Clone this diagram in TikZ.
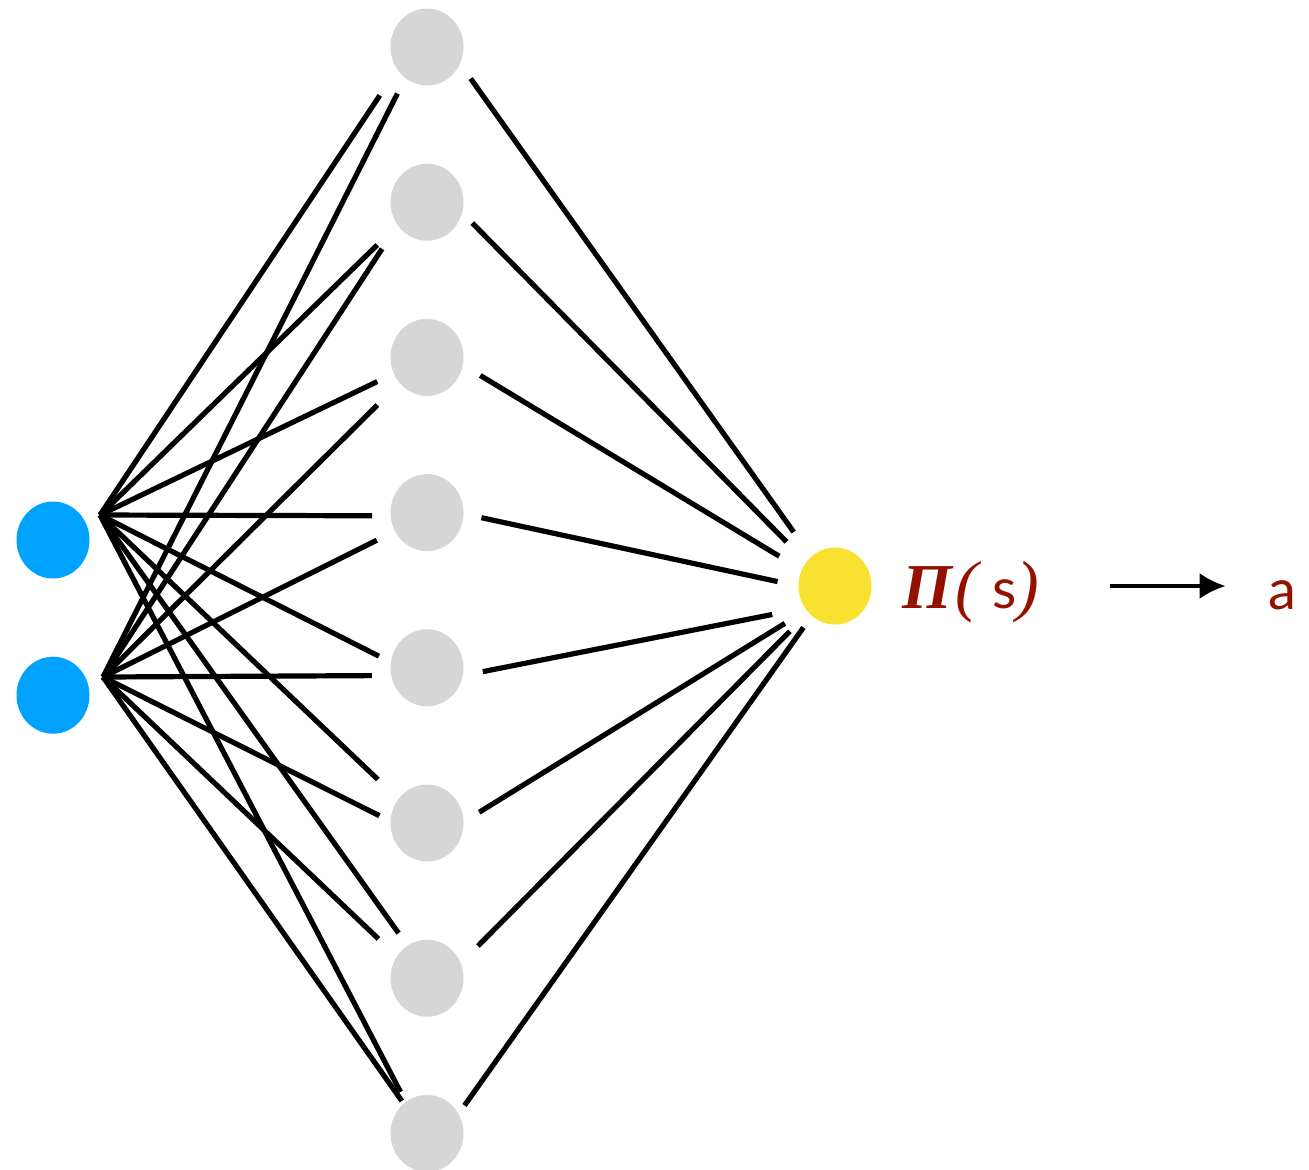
\documentclass[tikz,border=0pt]{standalone}
\usepackage{fontspec}
\usepackage{tikz}
\usetikzlibrary{arrows.meta,positioning,shapes.geometric}
\newfontfamily\pifont{Liberation Serif}
\newfontfamily\lblfont{Lato}
\definecolor{InputBlue}{HTML}{00A2FF}
\definecolor{HiddenGray}{HTML}{D6D6D6}
\definecolor{OutYellow}{HTML}{F9E132}
\definecolor{PolicyRed}{HTML}{941100}

\begin{document}
\begin{tikzpicture}[
  x=0.5pt, y=-0.5pt,
  node distance=38.7pt,
  unit/.style={ellipse,minimum width=36.5pt,minimum height=38.5pt,inner sep=0pt},
  inunit/.style={unit,fill=InputBlue},
  hidunit/.style={unit,fill=HiddenGray},
  outunit/.style={unit,fill=OutYellow},
  link/.style={line width=2.6pt},
  arrow/.style={-{Latex[length=13pt,width=13pt]},line width=2pt},
  txt/.style={text=PolicyRed,inner sep=0pt,anchor=base}
]
  \useasboundingbox (0,0) rectangle (1309,1169);

  \node[inunit] (in1) at (53,540) {};
  \node[inunit, below=of in1] (in2) {};

  \node[hidunit] (h1) at (427,47) {};
  \node[hidunit, below=of h1] (h2) {};
  \node[hidunit, below=of h2] (h3) {};
  \node[hidunit, below=of h3] (h4) {};
  \node[hidunit, below=of h4] (h5) {};
  \node[hidunit, below=of h5] (h6) {};
  \node[hidunit, below=of h6] (h7) {};
  \node[hidunit, below=of h7] (h8) {};

  \node[outunit] (out) at (835,586) {};
  \node[txt] (pi) at (971,608) {\pifont\fontsize{32}{36}\selectfont{\bfseries\itshape Π}\hspace{1.5pt}{\itshape\fontsize{34}{38}\selectfont(}\hspace{7pt}{\lblfont\fontsize{28}{32}\selectfont s}{\itshape\fontsize{34}{38}\selectfont)}};
  \node[txt] (act) at (1282,609) {\lblfont\fontsize{28}{32}\selectfont a};

  \coordinate (p1) at (100,515);
  \coordinate (p2) at (103,677);

  \draw[link, shorten >=15.5pt] (p1) -- (h1.217);
  \draw[link, shorten >=14pt] (p1) -- (h2.218);
  \draw[link, shorten >=9pt] (p1) -- (h3.206);
  \draw[link, shorten >=9pt] (p1) -- (h4.185);
  \draw[link, shorten >=6.5pt] (p1) -- (h5.171);
  \draw[link, shorten >=14pt] (p1) -- (h6.140);
  \draw[link, shorten >=7.5pt] (p1) -- (h7.121);
  \draw[link, shorten >=5.5pt] (p1) -- (h8.124);

  \draw[link, shorten >=8.5pt] (p2) -- (h1.235);
  \draw[link, shorten >=14pt] (p2) -- (h2.218);
  \draw[link, shorten >=15.5pt] (p2) -- (h3.223);
  \draw[link, shorten >=10pt] (p2) -- (h4.210);
  \draw[link, shorten >=9.5pt] (p2) -- (h5.192);
  \draw[link, shorten >=6pt] (p2) -- (h6.177);
  \draw[link, shorten >=12.5pt] (p2) -- (h7.144);
  \draw[link, shorten >=1.5pt] (p2) -- (h8.128);

  \draw[link, shorten <=9pt, shorten >=15pt] (h1.333) -- (out.129);
  \draw[link, shorten <=7pt, shorten >=14pt] (h2.343) -- (out.140);
  \draw[link, shorten <=10pt, shorten >=13pt] (h3.348) -- (out.154);
  \draw[link, shorten <=9pt, shorten >=10.5pt] (h4.358) -- (out.180);
  \draw[link, shorten <=10pt, shorten >=16.5pt] (h5.348) -- (out.216);
  \draw[link, shorten <=9pt, shorten >=12.5pt] (h6.2) -- (out.220);
  \draw[link, shorten <=12pt, shorten >=13pt] (h7.24) -- (out.225);
  \draw[link, shorten <=5pt, shorten >=7pt] (h8.32) -- (out.232);

  \draw[arrow, shorten <=35pt, shorten >=21pt] (pi.east |- out) -- (act.west |- out);
\end{tikzpicture}
\end{document}
